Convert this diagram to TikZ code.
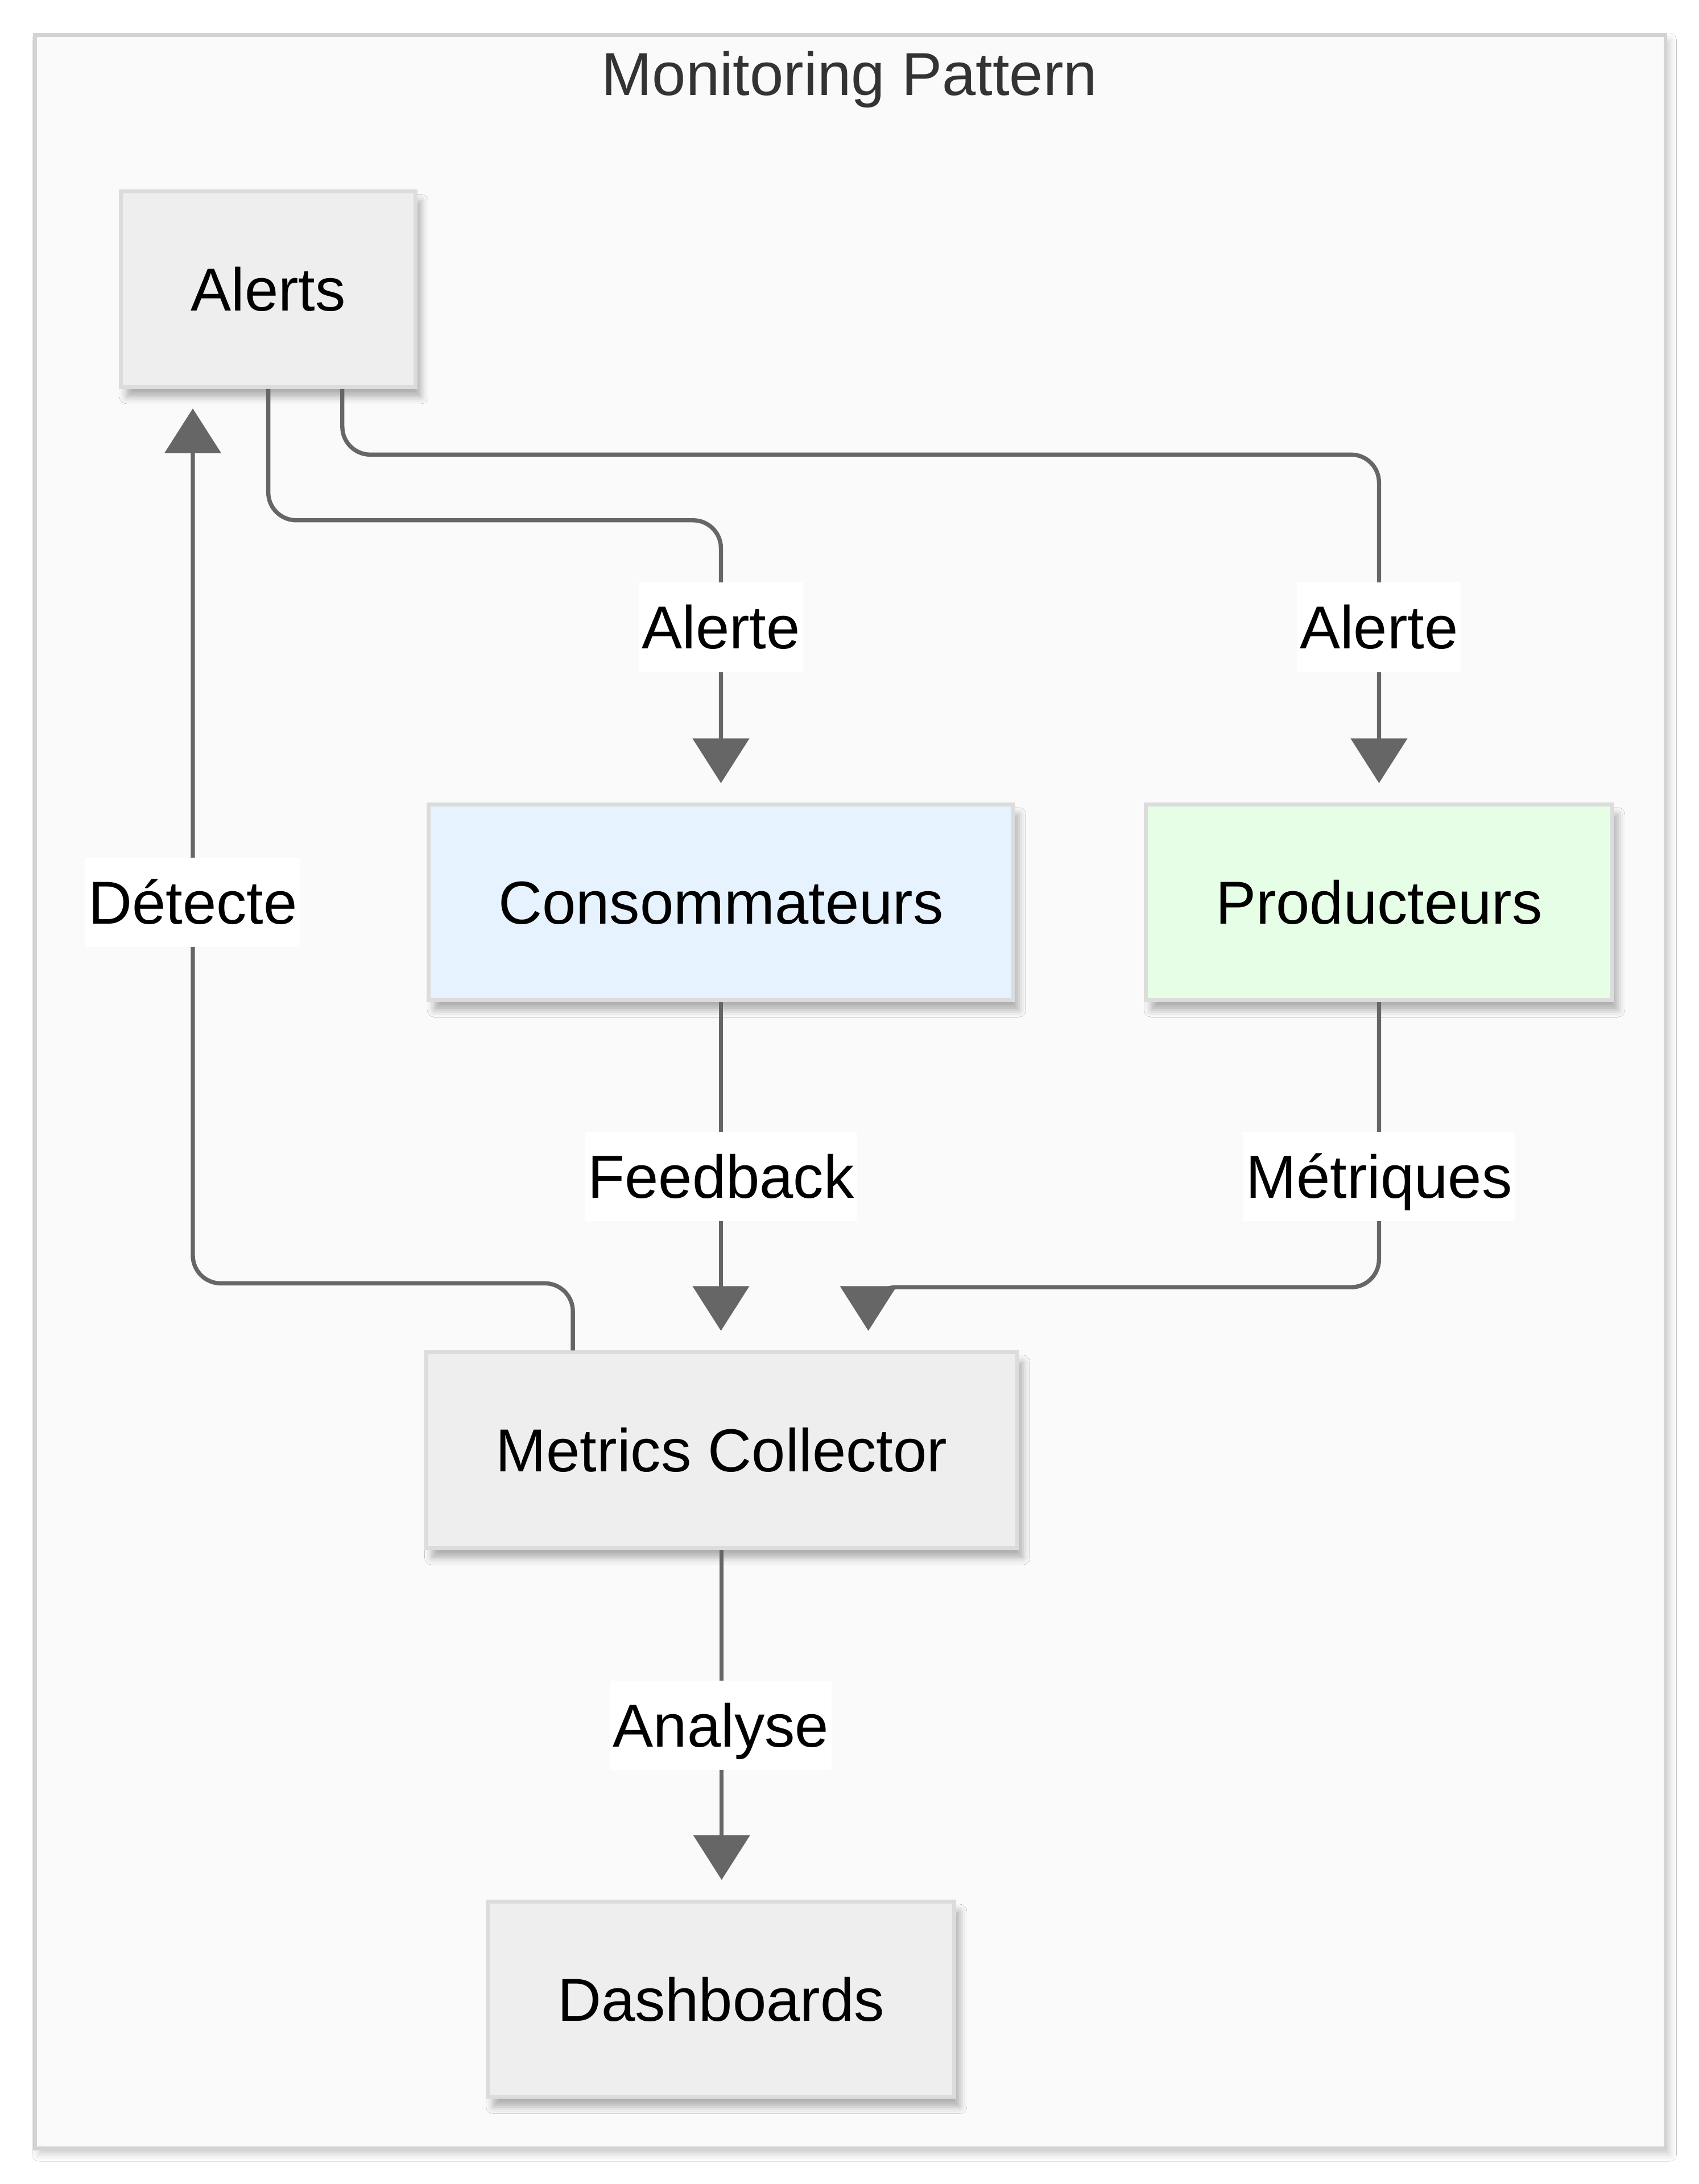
\documentclass[tikz,border=0pt]{standalone}
\usepackage{fontspec}
\setmainfont{Liberation Sans}
\usetikzlibrary{shapes,arrows.meta,shadows.blur}
\definecolor{fondcadre}{HTML}{FAFAFA}
\definecolor{bordcadre}{HTML}{D3D3D3}
\definecolor{fondnoeud}{HTML}{EEEEEE}
\definecolor{bordnoeud}{HTML}{DCDCDC}
\definecolor{fondbleu}{HTML}{E6F2FD}
\definecolor{fondvert}{HTML}{E6FDE6}
\definecolor{trait}{HTML}{666666}
\definecolor{titre}{HTML}{333333}
\begin{document}
\begin{tikzpicture}[x=0.5pt,y=-0.5pt]
\useasboundingbox[fill=white] (0,0) rectangle (1216,1563.3);
% style des nœuds
\tikzstyle{cluster}=[rectangle,draw=bordcadre,line width=1.4pt,fill=fondcadre,minimum width=583.5pt,minimum height=756.5pt,blur shadow={shadow xshift=1.5pt,shadow yshift=-2pt,shadow blur radius=2.5pt,shadow opacity=20}]
\tikzstyle{block}=[rectangle,draw=bordnoeud,line width=1.4pt,fill=fondnoeud,minimum height=70pt,inner xsep=25pt,text height=15.5pt,text depth=0pt,font=\fontsize{21.7pt}{26pt}\selectfont,blur shadow={shadow xshift=2pt,shadow yshift=-3.5pt,shadow blur radius=2.5pt,shadow opacity=30}]
\tikzstyle{edgelabel}=[rectangle,fill=white,inner xsep=1pt,inner ysep=0pt,minimum height=32pt,text height=15.5pt,text depth=0pt,font=\fontsize{21.7pt}{26pt}\selectfont]
% style des flèches
\tikzstyle{transition}=[-{Triangle[width=20pt,length=16pt]},line width=1.5pt,draw=trait,rounded corners=10pt,shorten >=7pt]
% placement des nœuds
\node[cluster] (cadre) at (608.5,781.5) {};
\node[text=titre,font=\fontsize{21.7pt}{26pt}\selectfont] (titre) at (608,57) {Monitoring Pattern};
\node[block] (alerts) at (192,207) {Alerts};
\node[block,fill=fondbleu] (conso) at (516,646) {Consommateurs};
\node[block,fill=fondvert] (prod) at (987,646) {Producteurs};
\node[block] (collecteur) at (516.5,1038) {Metrics Collector};
\node[block] (dash) at (516,1431) {Dashboards};
% Placement des flèches
\draw[transition] (alerts.south) -- ++(0,94) -| (conso.north);
\draw[transition] ([xshift=26.5pt]alerts.south) -- ++(0,47) -| (prod.north);
\draw[transition] ([xshift=-53.25pt]collecteur.north) -- ++(0,-48) -| ([xshift=-27pt]alerts.south);
\draw[transition] (conso.south) -- (conso.south |- collecteur.north);
\draw[transition] (prod.south) -- ++(0,204) -| ([xshift=52.5pt]collecteur.north);
\draw[transition] (collecteur.south) -- (collecteur.south |- dash.north);
% étiquettes des flèches
\node[edgelabel] (alerteconso) at (516,449) {Alerte};
\node[edgelabel] (alerteprod) at (987,449) {Alerte};
\node[edgelabel] (detecte) at (138,646) {Détecte};
\node[edgelabel] (feedback) at (516,842) {Feedback};
\node[edgelabel] (metriques) at (987,842) {Métriques};
\node[edgelabel] (analyse) at (516,1235) {Analyse};
\end{tikzpicture}
\end{document}
